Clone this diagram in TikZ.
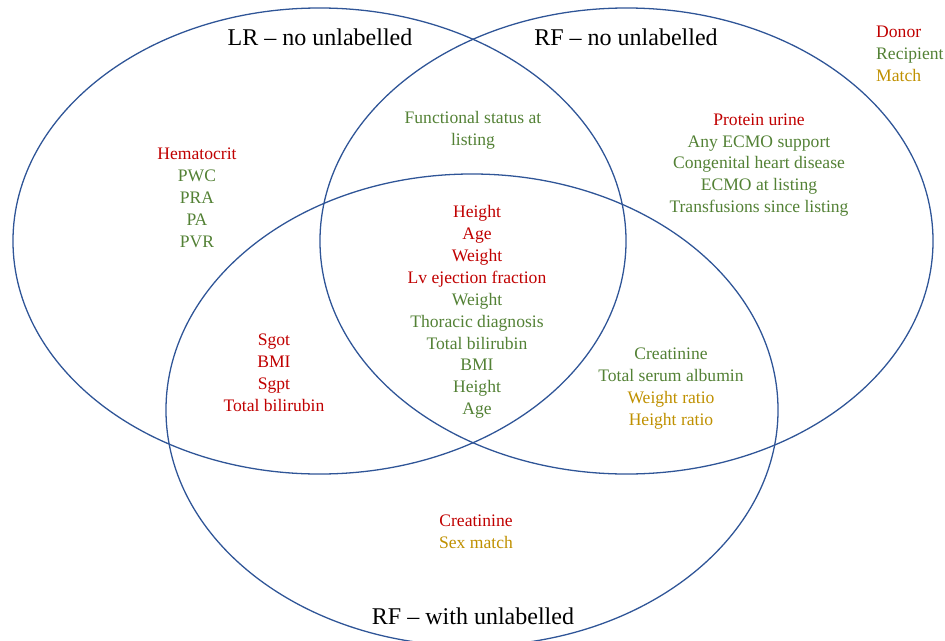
\documentclass[tikz,border=0pt]{standalone}
\usepackage{fontspec}
\setmainfont{Liberation Serif}
\usepackage{xcolor}
\usetikzlibrary{positioning}
\definecolor{VennBlue}{HTML}{2F5597}
\definecolor{DRed}{HTML}{C00000}
\definecolor{RGreen}{HTML}{538135}
\definecolor{MGold}{HTML}{BF9000}
\newcommand{\dn}[1]{\textcolor{DRed}{#1}}
\newcommand{\rc}[1]{\textcolor{RGreen}{#1}}
\newcommand{\mt}[1]{\textcolor{MGold}{#1}}
\tikzset{
  venn/.style={draw=VennBlue,line width=1.1pt},
  setlbl/.style={font=\fontsize{20.5}{24}\selectfont,text=black,inner sep=0pt},
  vars/.style={align=center,font=\fontsize{15}{18.7}\selectfont,inner sep=0pt}}

\begin{document}
\begin{tikzpicture}[x=0.03cm,y=-0.03cm]
  \useasboundingbox (0,0) rectangle (945,641);
  % the three sets
  \draw[venn] (319.5,241) ellipse [x radius=9.195cm,y radius=6.99cm];
  \draw[venn] (626.5,241) ellipse [x radius=9.195cm,y radius=6.99cm];
  \draw[venn] (472,410) ellipse [x radius=9.18cm,y radius=7.08cm];
  % set names
  \node[setlbl] (lrno) at (320,37) {LR -- no unlabelled};
  \node[setlbl] (rfno) at (626,37) {RF -- no unlabelled};
  \node[setlbl] (rfwith) at (473,616) {RF -- with unlabelled};
  % legend
  \node[vars,align=left,anchor=west] (legend) at (876,54)
    {\dn{Donor}\\\rc{Recipient}\\\mt{Match}};
  % regions
  \node[vars] (lronly) at (197,197.5)
    {\dn{Hematocrit}\\\rc{PWC}\\\rc{PRA}\\\rc{PA}\\\rc{PVR}};
  \node[vars] (lrrf) at (473,130) {\rc{Functional status at}\\\rc{listing}};
  \node[vars] (rfonly) at (759,165)
    {\dn{Protein urine}\\\rc{Any ECMO support}\\\rc{Congenital heart disease}\\
     \rc{ECMO at listing}\\\rc{Transfusions since listing}};
  \node[vars] (allthree) at (477,312)
    {\dn{Height}\\\dn{Age}\\\dn{Weight}\\\dn{Lv ejection fraction}\\
     \rc{Weight}\\\rc{Thoracic diagnosis}\\\rc{Total bilirubin}\\\rc{BMI}\\\rc{Height}\\\rc{Age}};
  \node[vars] (lrwith) at (274,373)
    {\dn{Sgot}\\\dn{BMI}\\\dn{Sgpt}\\\dn{Total bilirubin}};
  \node[vars] (rfboth) at (671,388.5)
    {\rc{Creatinine}\\\rc{Total serum albumin}\\\mt{Weight ratio}\\\mt{Height ratio}};
  \node[vars] (withonly) at (476,532) {\dn{Creatinine}\\\mt{Sex match}};
\end{tikzpicture}
\end{document}
